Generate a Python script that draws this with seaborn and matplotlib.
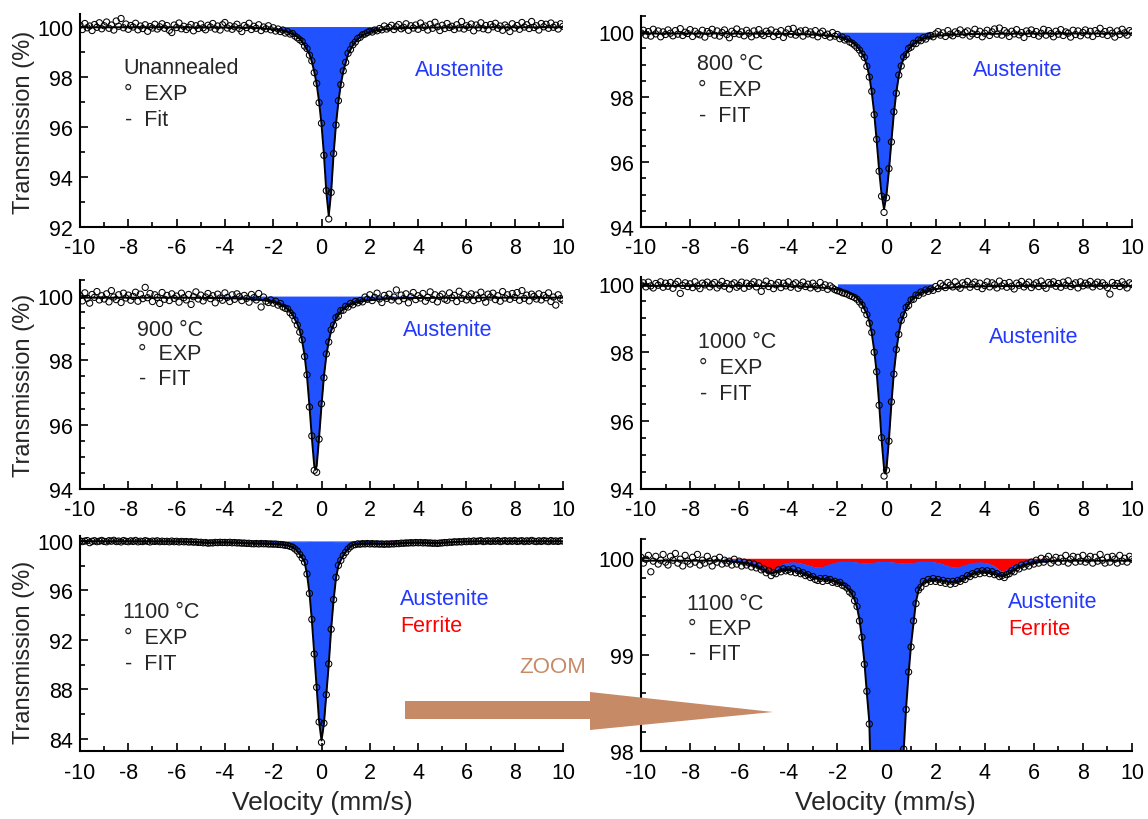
import numpy as np
import matplotlib
matplotlib.use("Agg")
import matplotlib.pyplot as plt
from matplotlib.patches import Polygon
from matplotlib.ticker import MultipleLocator
import seaborn as sns

# ---------------- data ----------------
# velocity channels (mm/s) shared by all spectra
velocity = np.round(np.linspace(-10, 10, 201), 2)

exp_unannealed = [
    100.05, 99.88, 100.12, 99.95, 100.02, 99.84, 100.08, 99.97, 100.15, 99.91,
    100.03, 100.18, 99.93, 100.06, 99.86, 100.22, 100.01, 100.32, 99.95, 100.10,
    99.89, 100.04, 99.98, 100.13, 99.87, 100.02, 99.92, 100.07, 99.81, 100.00,
    99.94, 100.09, 99.90, 99.99, 100.11, 99.93, 100.04, 99.85, 99.76, 100.06,
    99.96, 100.14, 99.91, 100.01, 99.88, 99.97, 100.08, 99.83, 100.03, 99.92,
    100.10, 99.95, 99.87, 100.05, 99.98, 100.12, 99.90, 100.02, 99.86, 100.07,
    100.16, 99.94, 100.03, 99.89, 99.99, 100.09, 99.92, 99.80, 100.04, 99.96,
    100.13, 99.88, 100.01, 99.93, 100.07, 99.84, 99.98, 99.91, 100.03, 99.87,
    99.95, 99.82, 99.90, 99.80, 99.86, 99.74, 99.79, 99.70, 99.72, 99.62,
    99.55, 99.47, 99.40, 99.22, 99.12, 98.86, 98.63, 98.16, 97.73, 96.96,
    96.14, 94.86, 93.45, 92.32, 93.38, 94.93, 96.07, 97.04, 97.68, 98.23,
    98.57, 98.93, 99.08, 99.27, 99.38, 99.52, 99.57, 99.67, 99.70, 99.76,
    99.81, 99.78, 99.86, 99.83, 99.92, 99.87, 100.02, 99.90, 99.96, 100.05,
    99.88, 99.99, 100.08, 99.91, 99.97, 100.11, 99.85, 100.03, 99.94, 100.06,
    99.89, 100.14, 99.97, 100.02, 99.86, 100.09, 99.93, 100.17, 99.99, 99.84,
    100.05, 99.92, 100.12, 99.96, 100.01, 99.88, 100.07, 99.94, 100.20, 99.90,
    100.03, 99.97, 100.10, 99.83, 100.06, 99.95, 100.15, 99.91, 100.04, 99.87,
    100.08, 99.99, 100.13, 99.93, 100.02, 99.85, 100.06, 99.97, 99.80, 100.11,
    99.94, 100.04, 99.89, 100.16, 99.98, 100.07, 99.92, 100.20, 99.96, 100.03,
    99.86, 100.12, 99.99, 100.09, 99.93, 100.14, 99.97, 100.05, 99.90, 100.11,
    100.01]

exp_800 = [
    99.98, 100.06, 99.91, 100.02, 99.88, 100.09, 99.95, 100.04, 99.86, 100.01,
    99.93, 100.07, 99.97, 99.89, 100.05, 99.94, 100.11, 99.90, 100.00, 99.96,
    100.08, 99.87, 100.03, 99.95, 99.92, 100.06, 99.85, 100.02, 99.97, 100.09,
    99.91, 100.04, 99.88, 99.99, 100.07, 99.93, 99.83, 100.03, 99.96, 100.10,
    99.94, 100.01, 99.89, 100.06, 99.97, 99.86, 100.04, 99.92, 100.08, 99.95,
    99.90, 100.03, 99.96, 100.07, 99.87, 100.00, 99.93, 100.05, 99.84, 99.98,
    100.09, 99.94, 100.12, 99.91, 99.99, 100.04, 99.88, 100.06, 99.95, 100.01,
    99.92, 100.05, 99.86, 99.97, 100.03, 99.90, 99.94, 99.85, 99.99, 99.88,
    99.93, 99.80, 99.85, 99.76, 99.79, 99.70, 99.66, 99.60, 99.53, 99.45,
    99.33, 99.22, 98.95, 98.62, 98.18, 97.46, 96.70, 95.72, 94.95, 94.45,
    94.90, 95.80, 96.62, 97.55, 98.12, 98.68, 98.96, 99.24, 99.31, 99.50,
    99.54, 99.66, 99.65, 99.76, 99.74, 99.83, 99.79, 99.88, 99.90, 99.86,
    99.95, 100.02, 99.91, 99.98, 99.87, 100.05, 99.94, 99.89, 100.01, 99.96,
    100.07, 99.92, 99.99, 100.04, 99.88, 99.95, 100.09, 99.93, 100.03, 99.86,
    99.97, 100.06, 99.90, 100.01, 100.10, 99.94, 100.13, 99.91, 100.05, 99.98,
    99.87, 100.03, 99.95, 100.08, 99.92, 99.99, 99.84, 100.04, 99.96, 100.07,
    99.93, 100.02, 99.88, 99.97, 100.09, 99.91, 100.05, 99.96, 99.86, 100.03,
    99.94, 100.08, 99.90, 100.01, 99.97, 99.85, 100.06, 99.93, 100.04, 99.89,
    99.99, 100.07, 99.92, 100.03, 99.87, 100.05, 99.96, 100.12, 99.94, 100.02,
    99.90, 100.06, 99.97, 99.85, 100.04, 99.93, 100.09, 99.98, 99.91, 100.05,
    100.00]

exp_900 = [
    100.02, 99.85, 100.10, 99.93, 99.78, 100.05, 99.96, 100.14, 99.88, 100.01,
    99.91, 100.07, 99.82, 100.17, 99.97, 99.89, 100.04, 99.80, 100.09, 99.94,
    100.03, 99.87, 99.99, 100.12, 99.84, 100.06, 99.92, 100.27, 99.95, 100.08,
    99.83, 100.04, 99.96, 99.77, 100.11, 99.90, 100.02, 99.86, 100.07, 99.93,
    100.00, 99.81, 100.09, 99.95, 99.88, 100.05, 99.74, 99.98, 100.13, 99.91,
    100.03, 99.85, 99.97, 100.08, 99.92, 100.01, 99.79, 100.06, 99.94, 99.87,
    100.10, 99.96, 99.83, 100.04, 99.90, 100.07, 99.98, 99.86, 100.02, 99.93,
    99.81, 100.05, 99.95, 99.88, 100.08, 99.66, 99.97, 99.84, 99.80, 99.88,
    99.78, 99.84, 99.72, 99.77, 99.66, 99.62, 99.60, 99.48, 99.40, 99.25,
    99.10, 98.88, 98.64, 98.12, 97.55, 96.55, 95.65, 94.58, 94.52, 95.55,
    96.65, 97.46, 98.20, 98.57, 98.95, 99.10, 99.33, 99.38, 99.55, 99.56,
    99.68, 99.66, 99.77, 99.73, 99.83, 99.79, 99.86, 99.82, 99.97, 99.90,
    100.04, 99.86, 99.96, 100.09, 99.91, 99.80, 100.02, 99.93, 100.06, 99.88,
    99.97, 100.19, 99.85, 100.03, 99.92, 100.07, 99.79, 99.98, 100.11, 99.89,
    100.01, 99.94, 100.08, 99.84, 99.96, 100.13, 99.90, 100.04, 99.82, 99.99,
    100.06, 99.91, 99.87, 100.10, 99.95, 100.02, 99.83, 100.15, 99.93, 100.05,
    99.88, 99.98, 100.07, 99.86, 100.03, 99.92, 100.12, 99.95, 99.81, 100.06,
    99.97, 100.09, 99.89, 100.01, 99.84, 100.14, 99.94, 100.04, 99.90, 100.08,
    99.96, 100.11, 99.87, 100.17, 99.93, 100.03, 99.85, 100.06, 99.99, 99.91,
    100.07, 99.88, 100.02, 99.95, 100.10, 99.83, 99.97, 99.72, 100.04, 99.92,
    99.87]

exp_1000 = [
    99.97, 100.03, 99.91, 100.05, 99.94, 99.88, 100.01, 99.96, 100.06, 99.90,
    100.02, 99.93, 100.04, 99.87, 99.99, 100.07, 99.72, 99.95, 100.03, 99.92,
    100.00, 99.89, 100.06, 99.94, 99.86, 100.02, 99.97, 100.05, 99.91, 99.99,
    100.04, 99.88, 99.96, 100.07, 99.93, 100.01, 99.85, 99.98, 100.03, 99.90,
    99.95, 100.05, 99.87, 100.02, 99.93, 99.99, 100.06, 99.91, 100.03, 99.78,
    99.96, 100.08, 99.92, 100.01, 99.86, 99.97, 100.04, 99.89, 100.02, 99.94,
    100.06, 99.90, 99.98, 100.03, 99.87, 99.95, 100.05, 99.92, 99.99, 99.88,
    100.02, 99.93, 99.86, 100.04, 99.90, 99.97, 99.84, 99.94, 99.88, 99.83,
    99.80, 99.78, 99.74, 99.72, 99.70, 99.66, 99.63, 99.60, 99.55, 99.47,
    99.38, 99.24, 99.10, 98.85, 98.58, 98.00, 97.43, 96.45, 95.50, 94.38,
    94.55, 95.40, 96.55, 97.36, 98.08, 98.52, 98.93, 99.09, 99.31, 99.37,
    99.53, 99.55, 99.67, 99.66, 99.76, 99.73, 99.82, 99.78, 99.85, 99.81,
    99.92, 99.86, 100.01, 99.94, 99.89, 100.04, 99.96, 99.91, 100.06, 99.93,
    99.87, 100.03, 99.97, 100.07, 99.90, 99.99, 100.05, 99.92, 100.02, 99.86,
    99.95, 100.06, 99.91, 100.03, 99.97, 99.88, 100.08, 99.94, 100.01, 99.90,
    100.04, 99.93, 99.85, 100.02, 99.96, 100.07, 99.91, 99.98, 100.05, 99.89,
    99.97, 100.03, 99.92, 100.08, 99.95, 99.87, 100.04, 99.99, 100.06, 99.93,
    100.01, 99.90, 100.05, 99.96, 100.09, 99.92, 99.98, 100.03, 99.88, 100.06,
    99.94, 100.02, 99.97, 100.07, 99.91, 99.99, 100.05, 99.93, 100.03, 99.96,
    99.89, 99.70, 100.04, 99.95, 100.01, 99.92, 100.06, 99.97, 99.88, 100.03,
    99.98]

exp_1100 = [
    100.01, 99.95, 99.99, 100.03, 99.86, 99.97, 100.02, 99.94, 99.98, 100.04,
    99.96, 99.93, 100.02, 99.98, 100.05, 99.95, 99.99, 99.92, 100.03, 99.97,
    99.94, 100.01, 99.96, 100.04, 99.93, 99.98, 99.95, 100.02, 99.97, 99.92,
    99.99, 99.96, 100.01, 99.94, 99.98, 99.95, 99.97, 99.93, 99.99, 99.94,
    99.97, 99.92, 99.96, 99.93, 99.95, 99.91, 99.94, 99.90, 99.92, 99.88,
    99.89, 99.85, 99.87, 99.82, 99.85, 99.84, 99.88, 99.86, 99.89, 99.87,
    99.88, 99.86, 99.89, 99.85, 99.87, 99.84, 99.85, 99.82, 99.83, 99.80,
    99.81, 99.78, 99.77, 99.79, 99.76, 99.79, 99.77, 99.78, 99.75, 99.76,
    99.74, 99.75, 99.72, 99.71, 99.69, 99.65, 99.63, 99.56, 99.50, 99.35,
    99.18, 98.90, 98.62, 98.28, 97.33, 95.75, 93.65, 90.85, 88.15, 85.35,
    83.70, 85.25, 87.55, 90.05, 92.85, 95.25, 97.05, 98.02, 98.43, 98.82,
    99.08, 99.35, 99.53, 99.67, 99.70, 99.76, 99.74, 99.78, 99.76, 99.79,
    99.76, 99.78, 99.75, 99.77, 99.74, 99.76, 99.73, 99.76, 99.74, 99.77,
    99.76, 99.79, 99.78, 99.82, 99.81, 99.84, 99.83, 99.86, 99.84, 99.87,
    99.85, 99.87, 99.84, 99.86, 99.83, 99.84, 99.81, 99.82, 99.80, 99.83,
    99.84, 99.87, 99.86, 99.90, 99.89, 99.93, 99.91, 99.94, 99.92, 99.96,
    99.94, 99.98, 99.95, 100.00, 99.96, 99.99, 100.02, 99.95, 99.98, 100.01,
    99.96, 100.00, 99.97, 100.03, 99.95, 99.99, 100.02, 99.96, 100.01, 99.97,
    100.03, 99.96, 99.99, 100.02, 99.95, 100.01, 99.97, 100.04, 99.98, 99.95,
    100.01, 99.96, 100.02, 99.99, 99.95, 100.03, 99.97, 100.00, 99.96, 100.02,
    99.99]

# fitted curves (sampled along velocity)
vel_fit_unannealed = [-10, -6, -4, -3, -2.5, -2, -1.7, -1.4, -1.1, -0.9, -0.7, -0.5,
                      -0.4, -0.3, -0.2, -0.1, 0.0, 0.1, 0.2, 0.3, 0.4, 0.5, 0.6, 0.7,
                      0.8, 0.9, 1.1, 1.3, 1.5, 1.7, 2.0, 2.3, 2.8, 3.3, 4.3, 6, 10]
fit_unannealed = [99.97, 99.97, 99.96, 99.95, 99.93, 99.89, 99.85, 99.78, 99.65, 99.50,
                  99.25, 98.90, 98.60, 98.20, 97.70, 97.00, 96.10, 94.90, 93.40, 92.45,
                  93.40, 94.90, 96.10, 97.00, 97.70, 98.20, 98.90, 99.25, 99.50, 99.65,
                  99.78, 99.85, 99.91, 99.94, 99.96, 99.97, 99.97]

vel_fit_800 = [-10, -6, -4.1, -3.1, -2.4, -2.0, -1.7, -1.5, -1.3, -1.1, -0.9, -0.8,
               -0.7, -0.6, -0.5, -0.4, -0.3, -0.2, -0.1, 0.0, 0.1, 0.2, 0.3, 0.4,
               0.5, 0.6, 0.7, 0.9, 1.1, 1.3, 1.5, 1.8, 2.2, 2.9, 3.9, 6, 10]
fit_800 = [99.96, 99.96, 99.95, 99.93, 99.90, 99.86, 99.80, 99.73, 99.63, 99.47,
           99.20, 98.98, 98.65, 98.15, 97.50, 96.65, 95.75, 95.00, 94.55, 95.00,
           95.75, 96.65, 97.50, 98.15, 98.65, 98.98, 99.20, 99.47, 99.63, 99.73,
           99.80, 99.86, 99.90, 99.93, 99.95, 99.96, 99.96]

vel_fit_900 = [-10, -6, -4.25, -3.25, -2.7, -2.2, -1.9, -1.6, -1.4, -1.2, -1.0, -0.9,
               -0.8, -0.7, -0.6, -0.5, -0.4, -0.3, -0.25, -0.2, -0.1, 0.0, 0.1, 0.2,
               0.3, 0.4, 0.6, 0.8, 1.0, 1.2, 1.5, 2.0, 2.75, 3.75, 6, 10]
fit_900 = [99.95, 99.95, 99.94, 99.92, 99.89, 99.85, 99.80, 99.70, 99.59, 99.42,
           99.13, 98.92, 98.60, 98.15, 97.50, 96.60, 95.60, 94.72, 94.60, 94.72,
           95.60, 96.60, 97.50, 98.15, 98.60, 98.92, 99.30, 99.52, 99.65, 99.74,
           99.82, 99.87, 99.92, 99.94, 99.95, 99.95]

vel_fit_1000 = [-10, -6, -4.05, -3.05, -2.5, -2.0, -1.7, -1.4, -1.2, -1.0, -0.8, -0.7,
                -0.6, -0.5, -0.4, -0.3, -0.2, -0.1, -0.05, 0.0, 0.1, 0.2, 0.3, 0.4,
                0.5, 0.6, 0.8, 1.0, 1.2, 1.5, 1.9, 2.4, 2.95, 3.95, 6, 10]
fit_1000 = [99.94, 99.94, 99.93, 99.91, 99.88, 99.84, 99.79, 99.69, 99.58, 99.40,
            99.12, 98.90, 98.55, 98.05, 97.40, 96.50, 95.45, 94.60, 94.45, 94.60,
            95.45, 96.50, 97.40, 98.05, 98.55, 98.90, 99.28, 99.50, 99.64, 99.76,
            99.84, 99.88, 99.91, 99.93, 99.94, 99.94]

# 1100 C: ferrite sub-spectrum and total fit on the velocity channels
ferrite_1100 = [
    100.0, 100.0, 100.0, 100.0, 100.0, 100.0, 100.0, 100.0, 100.0, 100.0,
    100.0, 100.0, 100.0, 100.0, 100.0, 100.0, 100.0, 100.0, 100.0, 100.0,
    100.0, 100.0, 100.0, 100.0, 100.0, 100.0, 100.0, 100.0, 100.0, 100.0,
    100.0, 100.0, 100.0, 100.0, 100.0, 99.995, 99.99, 99.99, 99.99, 99.985,
    99.985, 99.98, 99.98, 99.975, 99.97, 99.965, 99.96, 99.95, 99.94, 99.93,
    99.915, 99.895, 99.875, 99.865, 99.875, 99.895, 99.915, 99.93, 99.94, 99.948,
    99.953, 99.956, 99.957, 99.956, 99.953, 99.948, 99.942, 99.935, 99.927, 99.92,
    99.913, 99.908, 99.905, 99.906, 99.91, 99.918, 99.928, 99.937, 99.945, 99.952,
    99.957, 99.961, 99.964, 99.966, 99.966, 99.965, 99.963, 99.96, 99.957, 99.953,
    99.95, 99.948, 99.947, 99.948, 99.951, 99.955, 99.958, 99.96, 99.962, 99.962,
    99.962, 99.961, 99.959, 99.957, 99.954, 99.951, 99.948, 99.947, 99.947, 99.948,
    99.95, 99.953, 99.957, 99.96, 99.963, 99.965, 99.966, 99.966, 99.964, 99.961,
    99.957, 99.952, 99.946, 99.938, 99.929, 99.92, 99.912, 99.907, 99.905, 99.907,
    99.912, 99.92, 99.928, 99.936, 99.943, 99.949, 99.953, 99.956, 99.957, 99.956,
    99.953, 99.948, 99.94, 99.93, 99.915, 99.895, 99.877, 99.866, 99.866, 99.878,
    99.897, 99.915, 99.93, 99.94, 99.95, 99.958, 99.965, 99.97, 99.975, 99.98,
    99.983, 99.986, 99.988, 99.99, 99.992, 99.994, 99.995, 99.996, 100.0, 100.0,
    100.0, 100.0, 100.0, 100.0, 100.0, 100.0, 100.0, 100.0, 100.0, 100.0,
    100.0, 100.0, 100.0, 100.0, 100.0, 100.0, 100.0, 100.0, 100.0, 100.0,
    100.0, 100.0, 100.0, 100.0, 100.0, 100.0, 100.0, 100.0, 100.0, 100.0,
    100.0]

fit_1100 = [
    99.975, 99.975, 99.975, 99.975, 99.975, 99.975, 99.975, 99.975, 99.975, 99.975,
    99.975, 99.975, 99.975, 99.975, 99.975, 99.975, 99.975, 99.975, 99.975, 99.975,
    99.975, 99.975, 99.975, 99.975, 99.975, 99.975, 99.975, 99.975, 99.975, 99.975,
    99.975, 99.975, 99.975, 99.975, 99.973, 99.971, 99.969, 99.967, 99.965, 99.962,
    99.959, 99.955, 99.951, 99.946, 99.94, 99.933, 99.925, 99.915, 99.903, 99.89,
    99.875, 99.86, 99.848, 99.842, 99.846, 99.856, 99.866, 99.873, 99.877, 99.878,
    99.877, 99.874, 99.87, 99.865, 99.858, 99.85, 99.841, 99.831, 99.82, 99.809,
    99.80, 99.792, 99.787, 99.785, 99.784, 99.782, 99.778, 99.772, 99.765, 99.757,
    99.748, 99.738, 99.726, 99.71, 99.69, 99.66, 99.62, 99.57, 99.49, 99.36,
    99.17, 98.92, 98.6, 98.3, 97.3, 95.8, 93.6, 90.9, 88.1, 85.4,
    83.85, 85.2, 87.6, 90.0, 92.9, 95.2, 97.0, 98.0, 98.45, 98.8,
    99.1, 99.33, 99.55, 99.66, 99.71, 99.74, 99.755, 99.765, 99.77, 99.772,
    99.772, 99.77, 99.767, 99.763, 99.759, 99.755, 99.752, 99.75, 99.751, 99.756,
    99.765, 99.778, 99.792, 99.807, 99.82, 99.832, 99.842, 99.85, 99.855, 99.858,
    99.858, 99.856, 99.852, 99.846, 99.838, 99.828, 99.819, 99.814, 99.816, 99.826,
    99.842, 99.86, 99.877, 99.892, 99.905, 99.916, 99.925, 99.933, 99.94, 99.946,
    99.951, 99.955, 99.959, 99.962, 99.965, 99.967, 99.969, 99.971, 99.973, 99.974,
    99.975, 99.975, 99.975, 99.975, 99.975, 99.975, 99.975, 99.975, 99.975, 99.975,
    99.975, 99.975, 99.975, 99.975, 99.975, 99.975, 99.975, 99.975, 99.975, 99.975,
    99.975, 99.975, 99.975, 99.975, 99.975, 99.975, 99.975, 99.975, 99.975, 99.975,
    99.975]

for arr in (exp_unannealed, exp_800, exp_900, exp_1000, exp_1100, ferrite_1100, fit_1100):
    assert len(arr) == len(velocity), len(arr)

# ---------------- style ----------------
sns.set_theme(style="ticks")
plt.rcParams["font.family"] = ["Liberation Sans", "DejaVu Sans"]
plt.rcParams["axes.unicode_minus"] = False

W, H = 1148, 820
BLUE = "#2152FF"
TXT_BLUE = "#2238FF"
RED = "#FF0000"
TAN = "#C68A66"

fig = plt.figure(figsize=(W / 100, H / 100), dpi=100)


def add_panel(l, t, r, b):
    return fig.add_axes([l / W, 1 - b / H, (r - l) / W, (b - t) / H])


def style_axes(ax, ylim, yticks, yminor, xpad=7):
    ax.set_xlim(-10, 10)
    ax.set_ylim(*ylim)
    ax.set_xticks(np.arange(-10, 11, 2))
    ax.xaxis.set_minor_locator(MultipleLocator(1))
    ax.set_yticks(yticks)
    ax.yaxis.set_minor_locator(MultipleLocator(yminor))
    ax.tick_params(which="both", direction="in", width=1.2, colors="black",
                   labelsize=15.5, top=False, right=False)
    ax.tick_params(which="major", length=6)
    ax.tick_params(which="minor", length=3.5)
    ax.tick_params(axis="x", which="major", pad=xpad)
    ax.tick_params(axis="y", which="major", pad=5)
    sns.despine(ax=ax)
    for s in ("left", "bottom"):
        ax.spines[s].set_linewidth(1.5)
        ax.spines[s].set_color("black")
    ax.set_xlabel("")
    ax.set_ylabel("")
    ax.patch.set_alpha(0)


def draw_single(ax, vel_fit, fit, exp, span):
    vf = np.asarray(vel_fit, float)
    ff = np.asarray(fit, float)
    mask = (vf >= span[0]) & (vf <= span[1])
    ax.fill_between(vf, ff, 100.0, where=mask, color=BLUE, lw=0, zorder=1)
    sns.scatterplot(x=velocity, y=exp, ax=ax, marker="o", s=20, facecolor="none",
                    edgecolor="black", linewidth=0.75, zorder=2, legend=False)
    sns.lineplot(x=vf, y=ff, ax=ax, color="black", linewidth=1.4, zorder=3,
                 estimator=None, sort=False, legend=False)


def draw_1100(ax):
    F = np.asarray(ferrite_1100, float)
    T = np.asarray(fit_1100, float)
    ax.fill_between(velocity, F, 100.0, color=RED, lw=0, zorder=1)
    ax.fill_between(velocity, T, F, where=np.abs(velocity) <= 6.6, color=BLUE, lw=0, zorder=1)
    sns.scatterplot(x=velocity, y=exp_1100, ax=ax, marker="o", s=20, facecolor="none",
                    edgecolor="black", linewidth=0.75, zorder=2, legend=False)
    sns.lineplot(x=velocity, y=T, ax=ax, color="black", linewidth=1.4, zorder=3,
                 estimator=None, sort=False, legend=False)


def ftext(x, y, s, **kw):
    kw.setdefault("fontsize", 15.5)
    kw.setdefault("va", "center")
    fig.text(x / W, 1 - y / H, s, **kw)


# ---- panel 1: unannealed
ax1 = add_panel(80, 15, 563, 228)
draw_single(ax1, vel_fit_unannealed, fit_unannealed, exp_unannealed, (-1.7, 2.3))
style_axes(ax1, (92, 100.5), [92, 94, 96, 98, 100], 1)

# ---- panel 2: 800 C
ax2 = add_panel(641, 17, 1132, 228)
draw_single(ax2, vel_fit_800, fit_800, exp_800, (-2.0, 1.8))
style_axes(ax2, (94, 100.5), [94, 96, 98, 100], 0.5)

# ---- panel 3: 900 C
ax3 = add_panel(80, 281, 563, 490)
draw_single(ax3, vel_fit_900, fit_900, exp_900, (-4.25, 3.75))
style_axes(ax3, (94, 100.5), [94, 96, 98, 100], 0.5)

# ---- panel 4: 1000 C
ax4 = add_panel(641, 278, 1132, 490)
draw_single(ax4, vel_fit_1000, fit_1000, exp_1000, (-2.0, 1.9))
style_axes(ax4, (94, 100.2), [94, 96, 98, 100], 0.5)

# ---- panel 5: 1100 C
ax5 = add_panel(80, 537, 563, 752)
draw_1100(ax5)
style_axes(ax5, (83, 100.4), [84, 88, 92, 96, 100], 2, xpad=8)

# ---- panel 6: 1100 C zoom
ax6 = add_panel(641, 540, 1132, 752)
draw_1100(ax6)
style_axes(ax6, (98, 100.2), [98, 99, 100], 0.2, xpad=8)

# ---- axis titles
for yc in (122, 385, 652):
    ftext(24, yc, "Transmission (%)", rotation=90, ha="center", fontsize=17)
ftext(322, 803, "Velocity (mm/s)", ha="center", fontsize=19)
ftext(885, 803, "Velocity (mm/s)", ha="center", fontsize=19)

# ---- annotations
def legend_block(x, y0, title, fit_word, dy=26):
    ftext(x, y0, title)
    ftext(x + 1, y0 + dy, "°  EXP")
    ftext(x + 2, y0 + 2 * dy, "-  " + fit_word)

legend_block(123, 69, "Unannealed", "Fit")
ftext(460, 71, "Austenite", color=TXT_BLUE, ha="center")

legend_block(697, 64, "800 °C", "FIT")
ftext(1018, 71, "Austenite", color=TXT_BLUE, ha="center")

legend_block(137, 330, "900 °C", "FIT", dy=25)
ftext(448, 330, "Austenite", color=TXT_BLUE, ha="center")

legend_block(698, 343, "1000 °C", "FIT")
ftext(1034, 338, "Austenite", color=TXT_BLUE, ha="center")

legend_block(123, 613, "1100 °C", "FIT")
ftext(400, 600, "Austenite", color=TXT_BLUE)
ftext(400, 627, "Ferrite", color=RED)

legend_block(687, 605, "1100 °C", "FIT", dy=25)
ftext(1008, 603, "Austenite", color=TXT_BLUE)
ftext(1008, 630, "Ferrite", color=RED)

# ---- zoom arrow
ftext(553, 668, "ZOOM", color=TAN, ha="center", fontsize=16)
arrow_px = [(405, 702), (590, 702), (590, 693), (773, 713), (590, 731), (590, 720), (405, 720)]
fig.patches.append(Polygon([(x / W, 1 - y / H) for x, y in arrow_px], closed=True,
                           transform=fig.transFigure, facecolor=TAN, edgecolor="none",
                           zorder=5))

fig.savefig("out.png", dpi=100, facecolor="white")
